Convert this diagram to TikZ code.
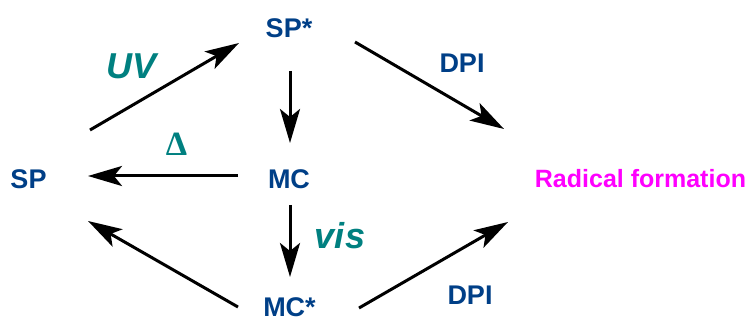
\documentclass[tikz,border=0pt]{standalone}
\usepackage{fontspec}
\setmainfont{Liberation Sans}
\newfontfamily\deltafont{Liberation Serif}
\usetikzlibrary{arrows.meta}
\usetikzlibrary{calc}
\definecolor{stateblue}{RGB}{0,63,135}
\definecolor{lightteal}{RGB}{0,128,128}
\definecolor{radmagenta}{RGB}{255,0,255}
\tikzset{
%Define standard arrow tip
>={Stealth[length=34pt,width=20pt,inset=8pt]},
%Define style for the species and the light labels
state/.style={text=stateblue, font=\bfseries\fontsize{27}{30}\selectfont, inner sep=0pt, anchor=base},
light/.style={text=lightteal, font=\bfseries\itshape\fontsize{36}{40}\selectfont, inner sep=0pt, anchor=base},
%reaction/.style={thick},
react/.style={->, line width=3pt},
}

\begin{document}
\begin{tikzpicture}[x=1pt,y=-1pt]

% white page of the size of the picture
\useasboundingbox (0,0) rectangle (749,320);

% species
\node[state] (sp) at (28.5,189) {SP};
\node[state] (spx) at (289,38) {SP*};
\node[state] (mc) at (289,189) {MC};
\node[state] (mcx) at (289.5,316) {MC*};
\node[state, text=radmagenta, font=\bfseries\fontsize{25}{28}\selectfont] (rad) at (640.5,188) {Radical formation};

% light and heat
\node[light] (uv) at (132,79) {UV};
\node[light, font=\deltafont\bfseries\fontsize{34}{38}\selectfont] (heat) at (176.5,156) {Δ};
\node[light] (vis) at (340,249) {vis};
\node[state] (dpitop) at (462,73) {DPI};
\node[state] (dpibot) at (470,304) {DPI};

% SP -> SP* -> MC
\draw[react] ($(sp.base)+(61.5,-59)$) -- ($(spx.base)+(-50,5)$);
\draw[react] ($(spx.base)+(1,33)$) -- ($(mc.base)+(1,-46)$);

% back to SP
\draw[react] ($(mc.base)+(-51,-13)$) -- ($(sp.base)+(59.5,-13)$);
\draw[react] ($(mcx.base)+(-51.5,-9)$) -- ($(sp.base)+(59.5,32)$);

% MC -> MC*
\draw[react] ($(mc.base)+(1,16)$) -- ($(mcx.base)+(0.5,-39)$);

% DPI
\draw[react] ($(spx.base)+(66,4)$) -- ($(rad.base)+(-136.5,-59)$);
\draw[react] ($(mcx.base)+(69.5,-8)$) -- ($(rad.base)+(-132.5,34)$);

\end{tikzpicture}
\end{document}
